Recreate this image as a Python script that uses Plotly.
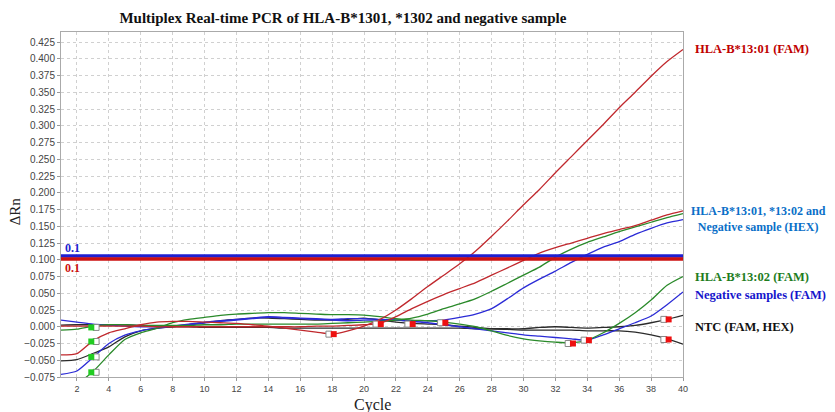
import plotly.graph_objects as go

cycles = list(range(1, 41))

# HLA-B*13:01 FAM (red, strong amplification)
red_fam = [-0.042, -0.040, -0.021, -0.009, -0.003, 0.003, 0.007, 0.008, 0.008, 0.007,
           0.006, 0.005, 0.003, 0.001, -0.002, -0.005, -0.008, -0.011, -0.006, 0.001,
           0.011, 0.025, 0.042, 0.060, 0.077, 0.094, 0.113, 0.135, 0.158, 0.182,
           0.205, 0.230, 0.254, 0.278, 0.302, 0.327, 0.350, 0.374, 0.396, 0.414]
# HLA-B*13:01 HEX (red)
red_hex = [0.001, 0.001, 0.001, 0.001, 0.001, 0.001, 0.000, 0.000, 0.000, 0.000,
           0.000, 0.000, 0.000, 0.000, 0.000, 0.000, 0.001, 0.001, 0.002, 0.003,
           0.005, 0.015, 0.027, 0.038, 0.048, 0.057, 0.066, 0.077, 0.088, 0.099,
           0.110, 0.118, 0.125, 0.132, 0.139, 0.145, 0.151, 0.159, 0.167, 0.173]
# HLA-B*13:02 HEX (green)
green_hex = [-0.005, -0.0035, 0.001, 0.003, 0.003, 0.002, 0.002, 0.002, 0.002, 0.003,
             0.003, 0.004, 0.004, 0.004, 0.004, 0.004, 0.004, 0.005, 0.006, 0.007,
             0.008, 0.010, 0.013, 0.019, 0.027, 0.034, 0.042, 0.053, 0.065, 0.077,
             0.089, 0.104, 0.116, 0.126, 0.134, 0.142, 0.149, 0.156, 0.163, 0.169]
# HLA-B*13:02 FAM (green)
green_fam = [-0.098, -0.085, -0.067, -0.042, -0.019, -0.009, -0.0025, 0.006, 0.011, 0.014,
             0.017, 0.019, 0.020, 0.021, 0.021, 0.020, 0.019, 0.018, 0.018, 0.0175,
             0.015, 0.012, 0.010, 0.009, 0.007, 0.004, 0.000, -0.006, -0.013, -0.018,
             -0.021, -0.023, -0.024, -0.020, -0.009, 0.005, 0.021, 0.040, 0.062, 0.075]
# Negative sample HEX (blue)
blue_hex = [0.010, 0.007, 0.004, 0.0025, 0.001, 0.000, 0.000, 0.001, 0.003, 0.006,
            0.008, 0.010, 0.012, 0.014, 0.013, 0.012, 0.011, 0.010, 0.009, 0.010,
            0.010, 0.010, 0.009, 0.009, 0.010, 0.014, 0.019, 0.027, 0.042, 0.058,
            0.071, 0.083, 0.096, 0.108, 0.119, 0.127, 0.138, 0.147, 0.155, 0.160]
# Negative sample FAM (blue)
blue_fam = [-0.071, -0.066, -0.046, -0.025, -0.0125, -0.006, -0.0025, 0.001, 0.004, 0.007,
            0.009, 0.011, 0.013, 0.015, 0.014, 0.013, 0.012, 0.011, 0.012, 0.012,
            0.011, 0.010, 0.008, 0.006, 0.003, 0.000, -0.003, -0.006, -0.009, -0.012,
            -0.014, -0.016, -0.018, -0.020, -0.012, -0.003, 0.006, 0.016, 0.033, 0.052]
# NTC (black)
ntc_a = [0.0025, 0.003, 0.003, 0.003, 0.003, 0.002, 0.001, 0.000, 0.000, -0.001,
         -0.001, -0.001, -0.001, -0.001, -0.002, -0.002, -0.002, -0.002, -0.002, -0.002,
         -0.002, -0.002, -0.002, -0.002, -0.002, -0.002, -0.003, -0.003, -0.003, -0.003,
         -0.001, 0.000, -0.001, -0.002, -0.001, 0.000, 0.002, 0.006, 0.011, 0.017]
ntc_b = [-0.051, -0.049, -0.040, -0.030, -0.015, -0.006, -0.002, 0.000, 0.003, 0.006,
         0.009, 0.011, 0.013, 0.013, 0.012, 0.011, 0.010, 0.010, 0.011, 0.013,
         0.010, 0.007, 0.005, 0.004, 0.003, 0.001, -0.001, -0.003, -0.004, -0.005,
         -0.005, -0.005, -0.005, -0.006, -0.006, -0.006, -0.008, -0.012, -0.018, -0.026]

threshold_hex = 0.1055
threshold_fam = 0.101

start_cycles = [2.9, 2.9, 2.9, 2.9]
start_values = [-0.001, -0.022, -0.045, -0.068]
end_cycles = [18.1, 21.05, 23.05, 25.1, 33.1, 34.1, 39.1, 39.1]
end_values = [-0.011, 0.004, 0.004, 0.006, -0.025, -0.020, 0.011, -0.019]

RED = "#c0282d"
GREEN = "#2a8a2a"
BLUE = "#2b2bd6"
BLACK = "#2b2b2b"

fig = go.Figure()

series = [
    (ntc_a, BLACK), (ntc_b, BLACK),
    (blue_fam, BLUE), (blue_hex, BLUE),
    (green_fam, GREEN), (green_hex, GREEN),
    (red_hex, RED), (red_fam, RED),
]
for vals, col in series:
    fig.add_trace(go.Scatter(x=cycles, y=vals, mode="lines",
                             line=dict(color=col, width=1.3, shape="spline", smoothing=0.6),
                             showlegend=False, hoverinfo="skip"))

# thresholds
fig.add_trace(go.Scatter(x=[1, 40], y=[threshold_hex, threshold_hex], mode="lines",
                         line=dict(color="#1f1fd0", width=3.5), showlegend=False))
fig.add_trace(go.Scatter(x=[1, 40], y=[threshold_fam, threshold_fam], mode="lines",
                         line=dict(color="#cc1010", width=3.5), showlegend=False))

# baseline markers
fig.add_trace(go.Scatter(x=[c + 0.3 for c in start_cycles], y=start_values, mode="markers",
                         marker=dict(symbol="square", size=6, color="white",
                                     line=dict(color="#888", width=1)), showlegend=False))
fig.add_trace(go.Scatter(x=start_cycles, y=start_values, mode="markers",
                         marker=dict(symbol="square", size=6, color="#22cc22"), showlegend=False))
fig.add_trace(go.Scatter(x=[c - 0.3 for c in end_cycles], y=end_values, mode="markers",
                         marker=dict(symbol="square", size=6, color="white",
                                     line=dict(color="#888", width=1)), showlegend=False))
fig.add_trace(go.Scatter(x=end_cycles, y=end_values, mode="markers",
                         marker=dict(symbol="square", size=6, color="#ee1111"), showlegend=False))

serif = "Liberation Serif"
ann = [
    dict(text="<b>HLA-B*13:01 (FAM)</b>", x=1.016, y=0.951, color="#c00000", align="left", size=12.5),
    dict(text="<b>HLA-B*13:01, *13:02 and<br>Negative sample (HEX)</b>", x=1.010, y=0.459,
         color="#0a6fc8", align="center", size=12),
    dict(text="<b>HLA-B*13:02 (FAM)</b>", x=1.016, y=0.290, color="#1e7d1e", align="left", size=12.5),
    dict(text="<b>Negative samples (FAM)</b>", x=1.016, y=0.238, color="#1515cc", align="left", size=12.5),
    dict(text="<b>NTC (FAM, HEX)</b>", x=1.016, y=0.145, color="#111111", align="left", size=12.5),
]
for a in ann:
    fig.add_annotation(text=a["text"], x=a["x"], y=a["y"], xref="paper", yref="paper",
                       xanchor="left", yanchor="middle", showarrow=False, align=a["align"],
                       font=dict(family=serif, size=a["size"], color=a["color"]))

fig.add_annotation(text="<b>0.1</b>", x=1.1, y=0.118, xref="x", yref="y", xanchor="left",
                   yanchor="middle", showarrow=False, font=dict(family=serif, size=12, color="#1f1fd0"))
fig.add_annotation(text="<b>0.1</b>", x=1.1, y=0.087, xref="x", yref="y", xanchor="left",
                   yanchor="middle", showarrow=False, font=dict(family=serif, size=12, color="#cc1010"))

fig.add_annotation(text="ΔRn", x=-0.074, y=0.48, xref="paper", yref="paper", textangle=-90,
                   showarrow=False, xanchor="center", yanchor="middle",
                   font=dict(family=serif, size=15, color="#222"))
fig.add_annotation(text="Cycle", x=0.5, y=-0.081, xref="paper", yref="paper",
                   showarrow=False, xanchor="center", yanchor="middle",
                   font=dict(family=serif, size=16, color="#222"))

# the page adds an 8px body margin, so the figure is sized and offset to compensate
fig.update_layout(
    width=827, height=404,
    margin=dict(l=53, r=152, t=24, b=35),
    paper_bgcolor="white", plot_bgcolor="white",
    title=dict(text="<b>Multiplex Real-time PCR of HLA-B*1301, *1302 and negative sample</b>",
               x=0.405, xanchor="center", y=1 - 10 / 404, yanchor="middle", yref="container",
               font=dict(family=serif, size=15, color="#111")),
)
fig.update_xaxes(range=[1, 40], tickmode="array", tickvals=list(range(2, 41, 2)),
                 ticks="outside", ticklen=3, tickcolor="#999",
                 tickfont=dict(family="Liberation Sans", size=9, color="#444"),
                 showgrid=True, gridcolor="#d0d0d0", griddash="dot", gridwidth=1,
                 showline=True, linecolor="#aaa", linewidth=1, mirror=True, zeroline=False)
fig.update_yaxes(range=[-0.075, 0.44], tickmode="array",
                 tickvals=[round(-0.075 + 0.025 * i, 3) for i in range(21)],
                 tickformat=".3f", ticks="outside", ticklen=3, tickcolor="#999",
                 tickfont=dict(family="Liberation Sans", size=10, color="#444"),
                 showgrid=True, gridcolor="#d0d0d0", griddash="dot", gridwidth=1,
                 showline=True, linecolor="#aaa", linewidth=1, mirror=True, zeroline=False)

fig.write_html("out.html")
